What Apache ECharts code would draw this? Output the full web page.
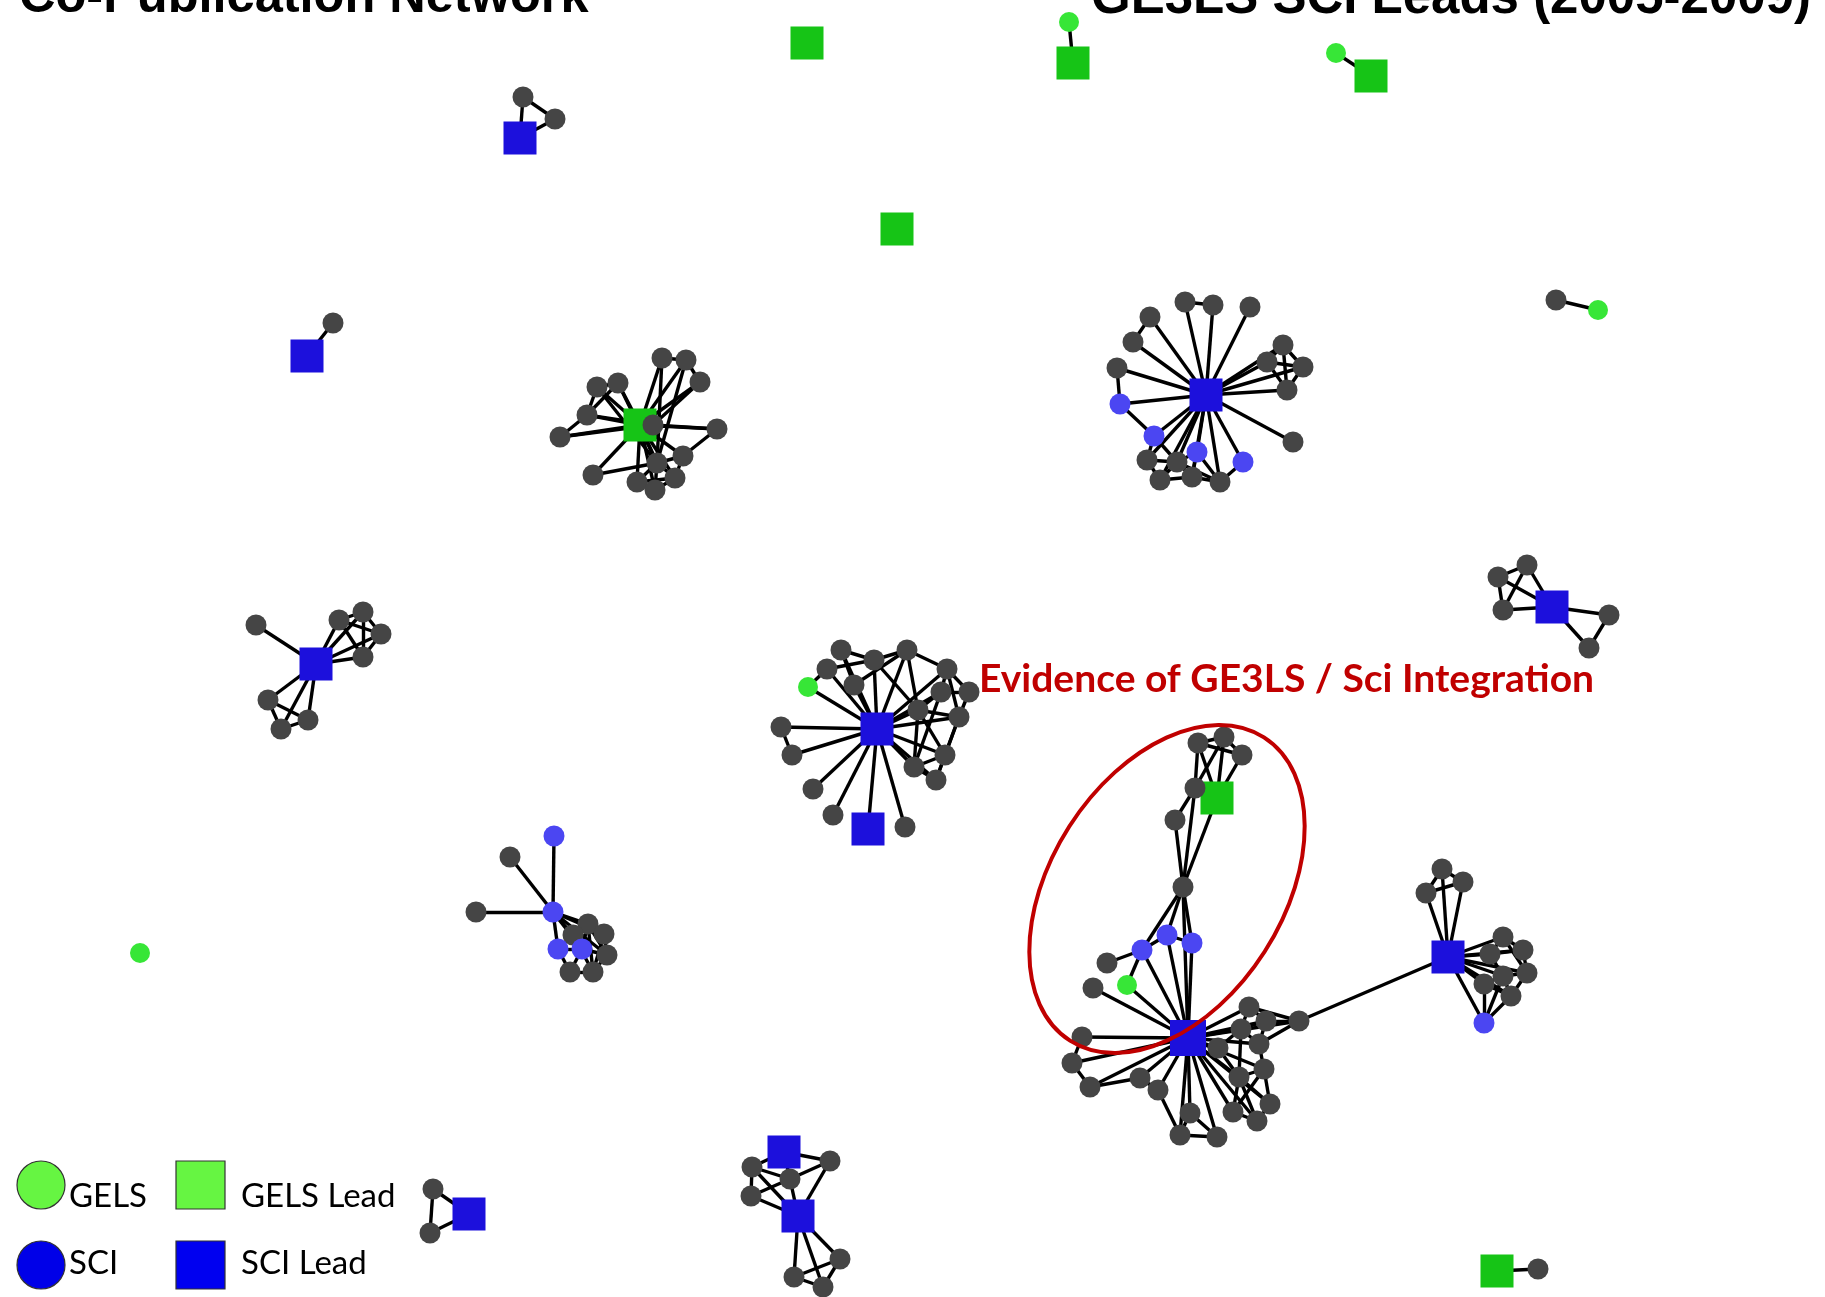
<!DOCTYPE html>
<html>
<head>
<meta charset="utf-8">
<script src="https://cdn.jsdelivr.net/npm/echarts@6/dist/echarts.min.js"></script>
<style>
html,body{margin:0;padding:0;background:#fff;}
#chart{width:1825px;height:1297px;}
</style>
</head>
<body>
<div id="chart"></div>
<script>
// ---------------- DATA ----------------
// node types: G = GELS, S = SCI, GL = GELS Lead, SL = SCI Lead, O = other co-author
const categoryNames = ['GELS', 'SCI', 'GELS Lead', 'SCI Lead', 'Co-author'];
const legendNames = ['GELS', 'SCI', 'GELS Lead', 'SCI Lead'];
const titleLeft = 'Co-Publication Network';
const titleRight = 'GE3LS SCI Leads (2005-2009)';
const annotationText = 'Evidence of GE3LS / Sci Integration';

// layout positions of nodes [id, x, y, type]
const nodesSmall = [
  ['A1', 520, 138, 'SL'], ['A2', 523, 97, 'O'], ['A3', 555, 119, 'O'],
  ['B1', 307, 356, 'SL'], ['B2', 333, 323, 'O'],
  ['C1', 807, 43, 'GL'],
  ['C2', 1073, 63, 'GL'], ['C3', 1069, 22, 'G'],
  ['C4', 897, 229, 'GL'],
  ['C5', 1371, 76, 'GL'], ['C6', 1336, 53, 'G'],
  ['C7', 1556, 300, 'O'], ['C8', 1598, 310, 'G'],
  ['C9', 140, 953, 'G'],
  ['C10', 1497, 1271, 'GL'], ['C11', 1538, 1269, 'O'],
  ['D1', 469, 1214, 'SL'], ['D2', 433, 1189, 'O'], ['D3', 430, 1233, 'O']
];
const edgesSmall = [['A1','A2'],['A2','A3'],['A1','A3'],['B1','B2'],['C2','C3'],['C5','C6'],['C7','C8'],['C10','C11'],['D1','D2'],['D1','D3'],['D2','D3']];

const nodesLeftHub = [
  ['E0', 316, 664, 'SL'], ['E1', 256, 625, 'O'], ['E2', 339, 620, 'O'], ['E3', 363, 612, 'O'],
  ['E4', 381, 634, 'O'], ['E5', 363, 657, 'O'], ['E6', 268, 700, 'O'], ['E7', 281, 729, 'O'], ['E8', 308, 720, 'O']
];
const edgesLeftHub = [['E0','E1'],['E0','E2'],['E0','E3'],['E0','E4'],['E0','E5'],['E0','E6'],['E0','E7'],['E0','E8'],
  ['E2','E3'],['E2','E4'],['E2','E5'],['E3','E4'],['E3','E5'],['E4','E5'],['E6','E7'],['E6','E8'],['E7','E8']];

const nodesRightTriangle = [
  ['F0', 1552, 607, 'SL'], ['F1', 1527, 565, 'O'], ['F2', 1498, 577, 'O'], ['F3', 1503, 610, 'O'], ['F4', 1609, 615, 'O'], ['F5', 1589, 648, 'O']
];
const edgesRightTriangle = [['F0','F1'],['F0','F2'],['F0','F3'],['F1','F2'],['F1','F3'],['F2','F3'],['F0','F4'],['F0','F5'],['F4','F5']];

const nodesBottomPair = [
  ['H3', 790, 1179, 'O'], ['H0', 784, 1152, 'SL'], ['H9', 798, 1216, 'SL'], ['H1', 752, 1167, 'O'], ['H2', 751, 1196, 'O'],
  ['H4', 830, 1161, 'O'], ['H5', 840, 1259, 'O'], ['H6', 794, 1277, 'O'], ['H7', 823, 1287, 'O']
];
const edgesBottomPair = [['H0','H1'],['H0','H3'],['H0','H4'],['H1','H2'],['H1','H3'],['H1','H9'],['H2','H9'],['H2','H3'],['H3','H9'],
  ['H4','H9'],['H4','H3'],['H9','H5'],['H9','H6'],['H9','H7'],['H5','H6'],['H5','H7'],['H6','H7']];

const nodesGelsHub = [
  ['N0', 640, 425, 'GL'],
  ['N1', 662, 358, 'O'], ['N2', 686, 360, 'O'], ['N3', 700, 382, 'O'], ['N4', 597, 387, 'O'], ['N5', 618, 383, 'O'],
  ['N6', 587, 415, 'O'], ['N7', 560, 437, 'O'], ['N8', 717, 429, 'O'], ['N9', 653, 425, 'O'], ['N10', 683, 456, 'O'],
  ['N11', 593, 475, 'O'], ['N12', 637, 482, 'O'], ['N13', 655, 490, 'O'], ['N14', 675, 478, 'O'], ['N15', 657, 463, 'O']
];
const edgesGelsHub = [['N0','N1'],['N0','N2'],['N0','N3'],['N0','N4'],['N0','N5'],['N0','N6'],['N0','N7'],['N0','N8'],['N0','N9'],
  ['N0','N10'],['N0','N11'],['N0','N12'],['N0','N13'],['N0','N14'],['N0','N15'],
  ['N1','N2'],['N2','N3'],['N1','N15'],['N2','N15'],['N3','N9'],['N4','N6'],['N5','N6'],['N6','N7'],['N7','N9'],['N6','N9'],
  ['N4','N15'],['N5','N15'],['N11','N15'],['N12','N15'],['N13','N15'],['N14','N15'],['N12','N13'],['N13','N14'],['N14','N10'],
  ['N10','N8'],['N8','N9'],['N10','N15'],['N12','N14'],['N4','N5']];

const nodesTopRightHub = [
  ['T0', 1206, 395, 'SL'],
  ['T1', 1185, 302, 'O'], ['T2', 1213, 305, 'O'], ['T3', 1250, 307, 'O'], ['T4', 1150, 317, 'O'], ['T5', 1133, 342, 'O'], ['T6', 1117, 368, 'O'],
  ['T11', 1283, 345, 'O'], ['T12', 1303, 367, 'O'], ['T13', 1287, 390, 'O'], ['T14', 1267, 362, 'O'], ['T15', 1293, 442, 'O'],
  ['T16', 1147, 460, 'O'], ['T17', 1160, 480, 'O'], ['T18', 1192, 477, 'O'], ['T19', 1220, 482, 'O'], ['T20', 1177, 462, 'O'],
  ['T7', 1120, 404, 'S'], ['T8', 1154, 436, 'S'], ['T9', 1197, 452, 'S'], ['T10', 1243, 462, 'S']
];
const edgesTopRightHub = [['T0','T1'],['T0','T2'],['T0','T3'],['T0','T4'],['T0','T5'],['T0','T6'],['T0','T7'],['T0','T8'],['T0','T9'],['T0','T10'],
  ['T0','T11'],['T0','T12'],['T0','T13'],['T0','T14'],['T0','T15'],['T0','T16'],['T0','T17'],['T0','T18'],['T0','T19'],['T0','T20'],
  ['T1','T2'],['T4','T5'],['T6','T7'],['T7','T8'],['T11','T12'],['T11','T13'],['T11','T14'],['T12','T13'],['T12','T14'],['T13','T14'],
  ['T16','T17'],['T16','T20'],['T17','T18'],['T18','T19'],['T20','T18'],['T20','T9'],['T8','T16'],['T9','T18'],['T9','T19'],['T10','T19'],
  ['T17','T20'],['T19','T20'],['T8','T20']];

const nodesMiddleHub = [
  ['M0', 877, 729, 'SL'], ['M19', 868, 829, 'SL'], ['MG', 808, 687, 'G'],
  ['M1', 841, 650, 'O'], ['M2', 874, 660, 'O'], ['M3', 907, 650, 'O'], ['M4', 827, 669, 'O'], ['M5', 854, 685, 'O'],
  ['M6', 947, 669, 'O'], ['M7', 969, 692, 'O'], ['M8', 941, 692, 'O'], ['M9', 918, 710, 'O'], ['M10', 959, 717, 'O'],
  ['M11', 781, 727, 'O'], ['M12', 792, 755, 'O'], ['M13', 813, 789, 'O'], ['M14', 833, 815, 'O'], ['M15', 905, 827, 'O'],
  ['M16', 945, 755, 'O'], ['M17', 914, 767, 'O'], ['M18', 936, 780, 'O']
];
const edgesMiddleHub = [['M0','MG'],['M0','M1'],['M0','M2'],['M0','M3'],['M0','M4'],['M0','M5'],['M0','M6'],['M0','M8'],['M0','M9'],['M0','M10'],
  ['M0','M11'],['M0','M12'],['M0','M13'],['M0','M14'],['M0','M15'],['M0','M16'],['M0','M17'],['M0','M18'],['M0','M19'],
  ['M1','M2'],['M2','M3'],['M4','M2'],['M1','M5'],['M3','M5'],['MG','M4'],['M11','M12'],['M2','M9'],['M3','M9'],['M6','M7'],['M6','M8'],
  ['M6','M10'],['M7','M8'],['M7','M10'],['M8','M9'],['M9','M10'],['M9','M16'],['M9','M17'],['M10','M16'],['M16','M17'],['M16','M18'],
  ['M17','M18'],['M10','M18'],['M8','M17'],['M3','M6']];

const nodesSciStar = [
  ['P0', 553, 912, 'S'], ['P1', 554, 836, 'S'], ['P2', 510, 857, 'O'], ['P3', 476, 912, 'O'],
  ['P4', 588, 924, 'O'], ['P5', 604, 934, 'O'], ['P6', 607, 955, 'O'], ['P7', 593, 972, 'O'], ['P8', 570, 972, 'O'], ['P9', 573, 935, 'O'],
  ['P10', 558, 949, 'S'], ['P11', 582, 949, 'S']
];
const edgesSciStar = [['P0','P1'],['P0','P2'],['P0','P3'],['P0','P10'],['P0','P11'],['P0','P4'],['P0','P5'],['P0','P9'],['P0','P6'],
  ['P4','P5'],['P5','P6'],['P6','P7'],['P7','P8'],['P8','P10'],['P10','P11'],['P11','P4'],['P4','P6'],['P5','P7'],['P4','P7'],['P8','P11'],
  ['P6','P11'],['P9','P4'],['P9','P10'],['P9','P7']];

const nodesIntegration = [
  ['I1', 1198, 743, 'O'], ['I2', 1224, 737, 'O'], ['I3', 1242, 755, 'O'], ['IG', 1217, 798, 'GL'], ['I4', 1195, 788, 'O'],
  ['I5', 1175, 820, 'O'], ['I6', 1183, 887, 'O'], ['I7', 1107, 963, 'O'], ['I8', 1093, 988, 'O'],
  ['IS1', 1167, 935, 'S'], ['IS2', 1192, 943, 'S'], ['IS3', 1142, 950, 'S'], ['IG2', 1127, 985, 'G'],
  ['K1', 1082, 1037, 'O'], ['K2', 1072, 1063, 'O'], ['K3', 1090, 1087, 'O'], ['K4', 1140, 1078, 'O'], ['K5', 1158, 1090, 'O'],
  ['K6', 1190, 1113, 'O'], ['K7', 1180, 1135, 'O'], ['K8', 1217, 1137, 'O'], ['K9', 1218, 1048, 'O'], ['K10', 1249, 1007, 'O'],
  ['K11', 1266, 1021, 'O'], ['K12', 1241, 1029, 'O'], ['K13', 1259, 1044, 'O'], ['K14', 1299, 1021, 'O'], ['K15', 1264, 1069, 'O'],
  ['K16', 1239, 1077, 'O'], ['K17', 1270, 1104, 'O'], ['K18', 1233, 1112, 'O'], ['K19', 1257, 1121, 'O'],
  ['I0', 1188, 1038, 'SL']
];
const edgesIntegration = [['I1','I2'],['I2','I3'],['I1','I3'],['I1','IG'],['I2','IG'],['I3','IG'],['I1','I4'],['I2','I4'],['I4','IG'],['I4','I5'],
  ['I5','I6'],['I4','I6'],['IG','I6'],['I6','IS1'],['I6','IS2'],['I6','IS3'],['I6','I0'],['IS1','IS3'],['IS1','IS2'],['IS3','I7'],['IS3','IG2'],
  ['IS1','I0'],['IS2','I0'],['IS3','I0'],['IG2','I0'],['I8','I0'],
  ['I0','K1'],['I0','K2'],['I0','K3'],['I0','K4'],['I0','K5'],['I0','K6'],['I0','K7'],['I0','K8'],['I0','K9'],['I0','K10'],['I0','K11'],
  ['I0','K12'],['I0','K13'],['I0','K14'],['I0','K15'],['I0','K16'],['I0','K17'],['I0','K18'],['I0','K19'],
  ['K1','K2'],['K2','K3'],['K3','K4'],['K4','K5'],['K6','K7'],['K7','K8'],['K6','K8'],['K10','K11'],['K10','K12'],['K11','K12'],['K11','K14'],
  ['K10','K14'],['K12','K13'],['K11','K13'],['K13','K14'],['K13','K15'],['K15','K16'],['K15','K17'],['K16','K17'],['K16','K18'],['K17','K19'],
  ['K18','K19'],['K15','K18'],['K16','K19'],['K12','K16'],['K9','K12'],['K9','K16'],['K5','K7']];

const nodesRightHub = [
  ['R0', 1448, 957, 'SL'], ['R1', 1442, 869, 'O'], ['R2', 1426, 893, 'O'], ['R3', 1463, 882, 'O'], ['R4', 1503, 937, 'O'], ['R5', 1523, 950, 'O'],
  ['R6', 1490, 954, 'O'], ['R7', 1527, 973, 'O'], ['R8', 1484, 984, 'O'], ['R9', 1511, 996, 'O'], ['R10', 1503, 976, 'O'], ['RS', 1484, 1023, 'S']
];
const edgesRightHub = [['R0','R1'],['R0','R2'],['R0','R3'],['R1','R2'],['R1','R3'],['R2','R3'],['R0','R4'],['R0','R5'],['R0','R6'],['R0','R7'],
  ['R0','R8'],['R0','R9'],['R0','R10'],['R0','RS'],['R4','R5'],['R4','R6'],['R5','R7'],['R6','R10'],['R7','R10'],['R8','R10'],['R9','R10'],
  ['R7','R9'],['R8','R9'],['R4','R7'],['R5','R6'],['RS','R8'],['RS','R9'],['RS','R10'],['R0','K14']];

// annotation ellipse (in layout units) and label anchor
const integrationEllipse = { cx: 1167, cy: 889, rx: 116, ry: 180, tiltDeg: 32.6 };
const annotationAnchor = [979, 679];

// ---------------- CHART ----------------
const typeIndex = { G: 0, S: 1, GL: 2, SL: 3, O: 4 };
const allNodes = [].concat(nodesSmall, nodesLeftHub, nodesRightTriangle, nodesBottomPair, nodesGelsHub,
  nodesTopRightHub, nodesMiddleHub, nodesSciStar, nodesIntegration, nodesRightHub);
const allEdges = [].concat(edgesSmall, edgesLeftHub, edgesRightTriangle, edgesBottomPair, edgesGelsHub,
  edgesTopRightHub, edgesMiddleHub, edgesSciStar, edgesIntegration, edgesRightHub);

const graphData = allNodes.map(function (n) {
  const item = { name: n[0], value: [n[1], n[2]], category: typeIndex[n[3]] };
  if (n[0] === 'I0') item.symbolSize = 36;
  return item;
});
const graphLinks = allEdges.map(function (e) { return { source: e[0], target: e[1] }; });

const chart = echarts.init(document.getElementById('chart'), null, { renderer: 'canvas' });

const titleStyle = { fontFamily: 'Liberation Sans', fontWeight: 'bold', fontSize: 50.5, color: '#000' };

chart.setOption({
  animation: false,
  backgroundColor: '#ffffff',
  title: [
    { text: titleLeft, left: 14, top: -32, padding: 5, textStyle: titleStyle },
    { text: titleRight, left: 1086, top: -32, padding: 5, textStyle: Object.assign({}, titleStyle, { fontSize: 51 }) }
  ],
  grid: { left: 0, right: 0, top: 0, bottom: 0 },
  xAxis: { type: 'value', min: 0, max: 1825, show: false },
  yAxis: { type: 'value', min: 0, max: 1297, inverse: true, show: false },
  series: [{
    type: 'graph',
    coordinateSystem: 'cartesian2d',
    layout: 'none',
    roam: false,
    silent: true,
    categories: [
      { name: 'GELS', symbol: 'circle', symbolSize: 20, itemStyle: { color: '#37e637' } },
      { name: 'SCI', symbol: 'circle', symbolSize: 21, itemStyle: { color: '#4b46f2' } },
      { name: 'GELS Lead', symbol: 'rect', symbolSize: 33, itemStyle: { color: '#16c416' } },
      { name: 'SCI Lead', symbol: 'rect', symbolSize: 33, itemStyle: { color: '#1c10dc' } },
      { name: 'Co-author', symbol: 'circle', symbolSize: 21, itemStyle: { color: '#454545' } }
    ],
    label: { show: false },
    lineStyle: { color: '#000', width: 3.4, opacity: 1, curveness: 0 },
    emphasis: { disabled: true },
    data: graphData,
    links: graphLinks
  }]
});

// annotation + legend key drawn through the grid's coordinate conversion
const px = function (p) { return chart.convertToPixel({ gridIndex: 0 }, p); };
const c = px([integrationEllipse.cx, integrationEllipse.cy]);
const o = px([0, 0]);
const u = px([integrationEllipse.rx, integrationEllipse.ry]);
const a = px(annotationAnchor);

const legendFont = '33px Lato';
const legendKeys = [
  { name: legendNames[0], shape: 'circle', color: '#66f542', at: [41, 1185], textAt: [69, 1196] },
  { name: legendNames[1], shape: 'circle', color: '#0000e8', at: [41, 1265], textAt: [69, 1263] },
  { name: legendNames[2], shape: 'rect', color: '#66f542', at: [200, 1185], textAt: [241, 1196] },
  { name: legendNames[3], shape: 'rect', color: '#0000f0', at: [200, 1265], textAt: [241, 1263] }
];
const legendGraphics = [];
legendKeys.forEach(function (k) {
  if (k.shape === 'circle') {
    legendGraphics.push({ type: 'circle', shape: { cx: k.at[0], cy: k.at[1], r: 24 }, style: { fill: k.color, stroke: '#333', lineWidth: 1.2 }, z: 20, silent: true });
  } else {
    legendGraphics.push({ type: 'rect', shape: { x: k.at[0] - 24, y: k.at[1] - 24, width: 49, height: 48 }, style: { fill: k.color, stroke: '#333', lineWidth: 1.2 }, z: 20, silent: true });
  }
  legendGraphics.push({ type: 'text', x: k.textAt[0], y: k.textAt[1], z: 20, silent: true,
    style: { text: k.name, font: legendFont, fill: '#000', align: 'left', verticalAlign: 'middle' } });
});

chart.setOption({
  graphic: [
    {
      type: 'ellipse', x: c[0], y: c[1], rotation: -integrationEllipse.tiltDeg * Math.PI / 180,
      shape: { cx: 0, cy: 0, rx: Math.abs(u[0] - o[0]), ry: Math.abs(u[1] - o[1]) },
      style: { fill: 'none', stroke: '#c00000', lineWidth: 4 }, z: 10, silent: true
    },
    {
      type: 'text', x: a[0], y: a[1], z: 11, silent: true,
      style: { text: annotationText, font: 'bold 39px Lato', fill: '#c00000', align: 'left', verticalAlign: 'middle' }
    }
  ].concat(legendGraphics)
});
</script>
</body>
</html>
